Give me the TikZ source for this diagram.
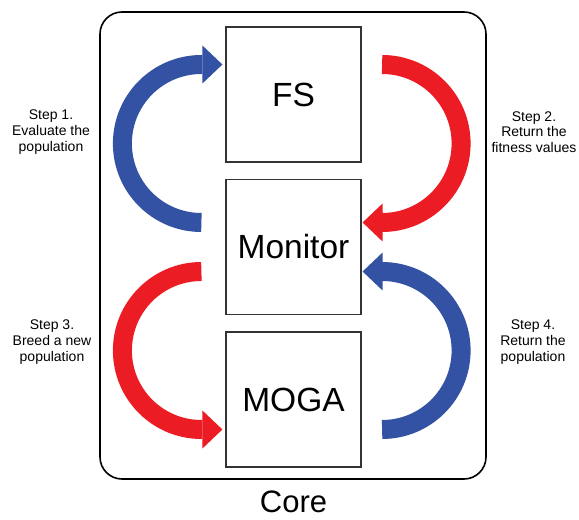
\documentclass[tikz,border=0pt]{standalone}
\usepackage{fontspec}
\setmainfont{Liberation Sans}
\usetikzlibrary{arrows.meta,calc}

\definecolor{arrowBlue}{RGB}{52,82,163}
\definecolor{arrowRed}{RGB}{236,28,36}

\begin{document}
\begin{tikzpicture}[x=1pt, y=1pt,
    box/.style={draw=black!80, line width=1.2pt, minimum size=135pt, inner sep=0pt,
      font=\fontsize{33.5}{40}\selectfont},
    loopArrow/.style={line width=19pt, -{Triangle[length=20pt, width=38pt, line width=0pt]}},
    stepText/.style={align=center, font=\fontsize{14}{15.8}\selectfont}]
  \useasboundingbox (0,0) rectangle (579,520);

  % Radius of the curved arrows
  \def\loopRadius{79}

  % Outer frame and its caption
  \draw[line width=1.6pt, rounded corners=22pt] (100,41) rectangle (486,508);
  \node[font=\fontsize{31}{36}\selectfont, inner sep=0pt] (Core) at (293.5,18) {Core};

  % Stack the three boxes
  \foreach \name/\y in {FS/425.5, Monitor/273, MOGA/120.5}{
      \node[box] (\name) at (293.5,\y) {\name};
    }

  % Curved arrows between the boxes
  \draw[loopArrow, arrowBlue] ($(Monitor.west)+(-24,24.5)$)
    arc[start angle=270, end angle=90, radius=\loopRadius] -- ($(FS.west)+(-3,30)$);
  \draw[loopArrow, arrowRed] ($(FS.east)+(20.5,30)$)
    arc[start angle=90, end angle=-90, radius=\loopRadius] -- ($(Monitor.east)+(1,24.5)$);
  \draw[loopArrow, arrowRed] ($(Monitor.west)+(-24,-24.5)$)
    arc[start angle=90, end angle=270, radius=\loopRadius] -- ($(MOGA.west)+(-3,-30)$);
  \draw[loopArrow, arrowBlue] ($(MOGA.east)+(20.5,-30)$)
    arc[start angle=-90, end angle=90, radius=\loopRadius] -- ($(Monitor.east)+(1,-24.5)$);

  % Step labels
  \node[stepText] (StepOne) at (51,388) {Step 1.\\Evaluate the\\population};
  \node[stepText] (StepTwo) at (534,388) {Step 2.\\Return the\\fitness values};
  \node[stepText] (StepThree) at (52,178) {Step 3.\\Breed a new\\population};
  \node[stepText] (StepFour) at (533,178) {Step 4.\\Return the\\population};
\end{tikzpicture}
\end{document}
